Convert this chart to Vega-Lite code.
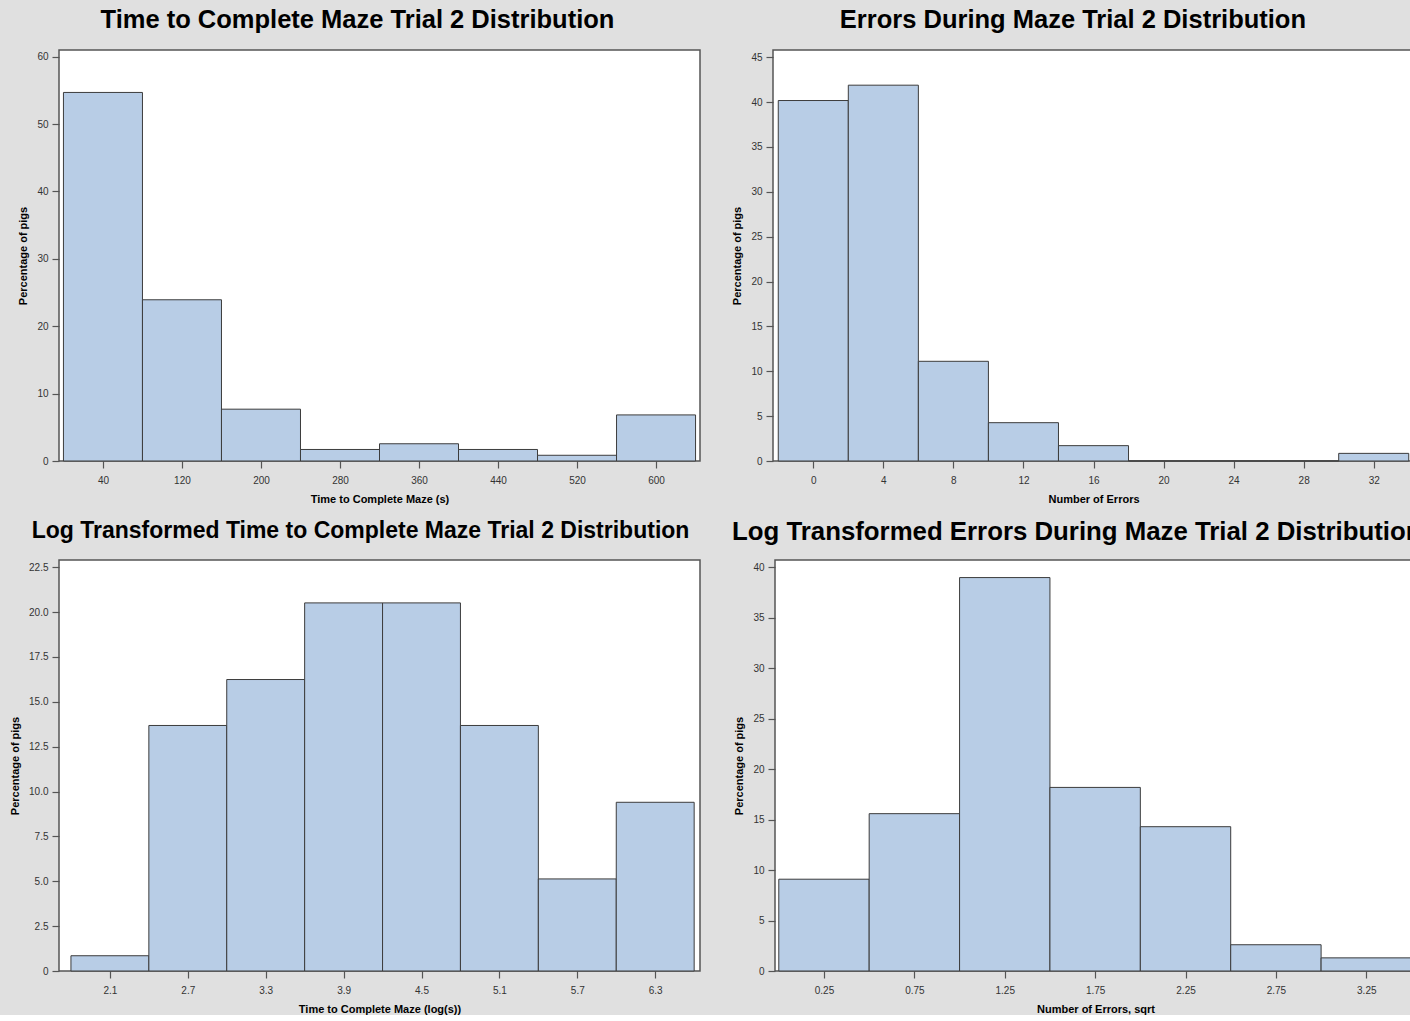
{
  "$schema": "https://vega.github.io/schema/vega-lite/v6.json",
  "background": "#e0e0e0",
  "padding": {"left": 8, "top": 6, "right": 0, "bottom": 0},
  "datasets": {
    "time": [
      {"start": 0, "end": 80, "mid": 40, "percent": 54.70},
      {"start": 80, "end": 160, "mid": 120, "percent": 23.93},
      {"start": 160, "end": 240, "mid": 200, "percent": 7.69},
      {"start": 240, "end": 320, "mid": 280, "percent": 1.71},
      {"start": 320, "end": 400, "mid": 360, "percent": 2.56},
      {"start": 400, "end": 480, "mid": 440, "percent": 1.71},
      {"start": 480, "end": 560, "mid": 520, "percent": 0.85},
      {"start": 560, "end": 640, "mid": 600, "percent": 6.84}
    ],
    "errors": [
      {"start": -2, "end": 2, "mid": 0, "percent": 40.17},
      {"start": 2, "end": 6, "mid": 4, "percent": 41.88},
      {"start": 6, "end": 10, "mid": 8, "percent": 11.11},
      {"start": 10, "end": 14, "mid": 12, "percent": 4.27},
      {"start": 14, "end": 18, "mid": 16, "percent": 1.71},
      {"start": 18, "end": 22, "mid": 20, "percent": 0},
      {"start": 22, "end": 26, "mid": 24, "percent": 0},
      {"start": 26, "end": 30, "mid": 28, "percent": 0},
      {"start": 30, "end": 34, "mid": 32, "percent": 0.85}
    ],
    "logtime": [
      {"start": 1.8, "end": 2.4, "mid": 2.1, "percent": 0.85},
      {"start": 2.4, "end": 3.0, "mid": 2.7, "percent": 13.68},
      {"start": 3.0, "end": 3.6, "mid": 3.3, "percent": 16.24},
      {"start": 3.6, "end": 4.2, "mid": 3.9, "percent": 20.51},
      {"start": 4.2, "end": 4.8, "mid": 4.5, "percent": 20.51},
      {"start": 4.8, "end": 5.4, "mid": 5.1, "percent": 13.68},
      {"start": 5.4, "end": 6.0, "mid": 5.7, "percent": 5.13},
      {"start": 6.0, "end": 6.6, "mid": 6.3, "percent": 9.40}
    ],
    "sqrterrors": [
      {"start": 0.0, "end": 0.5, "mid": 0.25, "percent": 9.09},
      {"start": 0.5, "end": 1.0, "mid": 0.75, "percent": 15.58},
      {"start": 1.0, "end": 1.5, "mid": 1.25, "percent": 38.96},
      {"start": 1.5, "end": 2.0, "mid": 1.75, "percent": 18.18},
      {"start": 2.0, "end": 2.5, "mid": 2.25, "percent": 14.29},
      {"start": 2.5, "end": 3.0, "mid": 2.75, "percent": 2.60},
      {"start": 3.0, "end": 3.5, "mid": 3.25, "percent": 1.30}
    ]
  },
  "columns": 2,
  "align": {"row": "all", "column": "none"},
  "spacing": {"row": 13, "column": 30},
  "concat": [
    {
      "title": {"text": "Time to Complete Maze Trial 2 Distribution", "fontSize": 25.5, "offset": 17, "frame": "group", "dx": -22},
      "width": 641, "height": 411,
      "data": {"name": "time"},
      "mark": {"type": "rect", "fill": "#b8cde6", "stroke": "#3c3c3c", "strokeWidth": 1},
      "encoding": {
        "x": {"field": "start", "type": "quantitative", "title": "Time to Complete Maze (s)",
              "scale": {"domain": [-4.5, 644.5], "nice": false, "zero": false},
              "axis": {"values": [40, 120, 200, 280, 360, 440, 520, 600]}},
        "x2": {"field": "end"},
        "y": {"field": "percent", "type": "quantitative", "title": "Percentage of pigs",
              "scale": {"domain": [0, 61], "nice": false},
              "axis": {"values": [0, 10, 20, 30, 40, 50, 60]}},
        "y2": {"datum": 0}
      }
    },
    {
      "title": {"text": "Errors During Maze Trial 2 Distribution", "fontSize": 25.5, "offset": 17},
      "width": 641, "height": 411,
      "data": {"name": "errors"},
      "mark": {"type": "rect", "fill": "#b8cde6", "stroke": "#3c3c3c", "strokeWidth": 1},
      "encoding": {
        "x": {"field": "start", "type": "quantitative", "title": "Number of Errors",
              "scale": {"domain": [-2.3, 34.3], "nice": false, "zero": false},
              "axis": {"values": [0, 4, 8, 12, 16, 20, 24, 28, 32]}},
        "x2": {"field": "end"},
        "y": {"field": "percent", "type": "quantitative", "title": "Percentage of pigs",
              "scale": {"domain": [0, 45.8], "nice": false},
              "axis": {"values": [0, 5, 10, 15, 20, 25, 30, 35, 40, 45]}},
        "y2": {"datum": 0}
      }
    },
    {
      "title": {"text": "Log Transformed Time to Complete Maze Trial 2 Distribution", "fontSize": 23, "offset": 17, "frame": "group", "dx": -19},
      "width": 641, "height": 411,
      "data": {"name": "logtime"},
      "mark": {"type": "rect", "fill": "#b8cde6", "stroke": "#3c3c3c", "strokeWidth": 1},
      "encoding": {
        "x": {"field": "start", "type": "quantitative", "title": "Time to Complete Maze (log(s))",
              "scale": {"domain": [1.708, 6.645], "nice": false, "zero": false},
              "axis": {"values": [2.1, 2.7, 3.3, 3.9, 4.5, 5.1, 5.7, 6.3], "format": ".1f"}},
        "x2": {"field": "end"},
        "y": {"field": "percent", "type": "quantitative", "title": "Percentage of pigs",
              "scale": {"domain": [0, 22.9], "nice": false},
              "axis": {"values": [0, 2.5, 5, 7.5, 10, 12.5, 15, 17.5, 20, 22.5], "labelExpr": "datum.value == 0 ? '0' : format(datum.value, '.1f')"}},
        "y2": {"datum": 0}
      }
    },
    {
      "title": {"text": "Log Transformed Errors During Maze Trial 2 Distribution", "fontSize": 25.8, "offset": 14, "frame": "group", "anchor": "start", "dx": -43},
      "width": 641, "height": 411,
      "data": {"name": "sqrterrors"},
      "mark": {"type": "rect", "fill": "#b8cde6", "stroke": "#3c3c3c", "strokeWidth": 1},
      "encoding": {
        "x": {"field": "start", "type": "quantitative", "title": "Number of Errors, sqrt",
              "scale": {"domain": [-0.021, 3.525], "nice": false, "zero": false},
              "axis": {"values": [0.25, 0.75, 1.25, 1.75, 2.25, 2.75, 3.25], "format": ".2f"}},
        "x2": {"field": "end"},
        "y": {"field": "percent", "type": "quantitative", "title": "Percentage of pigs",
              "scale": {"domain": [0, 40.7], "nice": false},
              "axis": {"values": [0, 5, 10, 15, 20, 25, 30, 35, 40]}},
        "y2": {"datum": 0}
      }
    }
  ],
  "config": {
    "font": "Liberation Sans",
    "view": {"fill": "white", "stroke": "#555555", "strokeWidth": 1.5},
    "axis": {
      "labelFont": "Liberation Sans", "labelFontSize": 10, "labelColor": "#333333",
      "titleFont": "Liberation Sans", "titleFontSize": 11, "titleFontWeight": "bold", "titleColor": "#000000",
      "tickColor": "#555555", "tickSize": 7, "tickWidth": 1.2, "domain": false, "grid": false,
      "labelPadding": 4, "titlePadding": 6
    },
    "axisX": {"labelPadding": 7, "titlePadding": 8},
    "axisY": {"titlePadding": 8},
    "title": {"font": "Liberation Sans", "fontWeight": "bold", "color": "#000000", "anchor": "middle", "frame": "bounds"}
  }
}
